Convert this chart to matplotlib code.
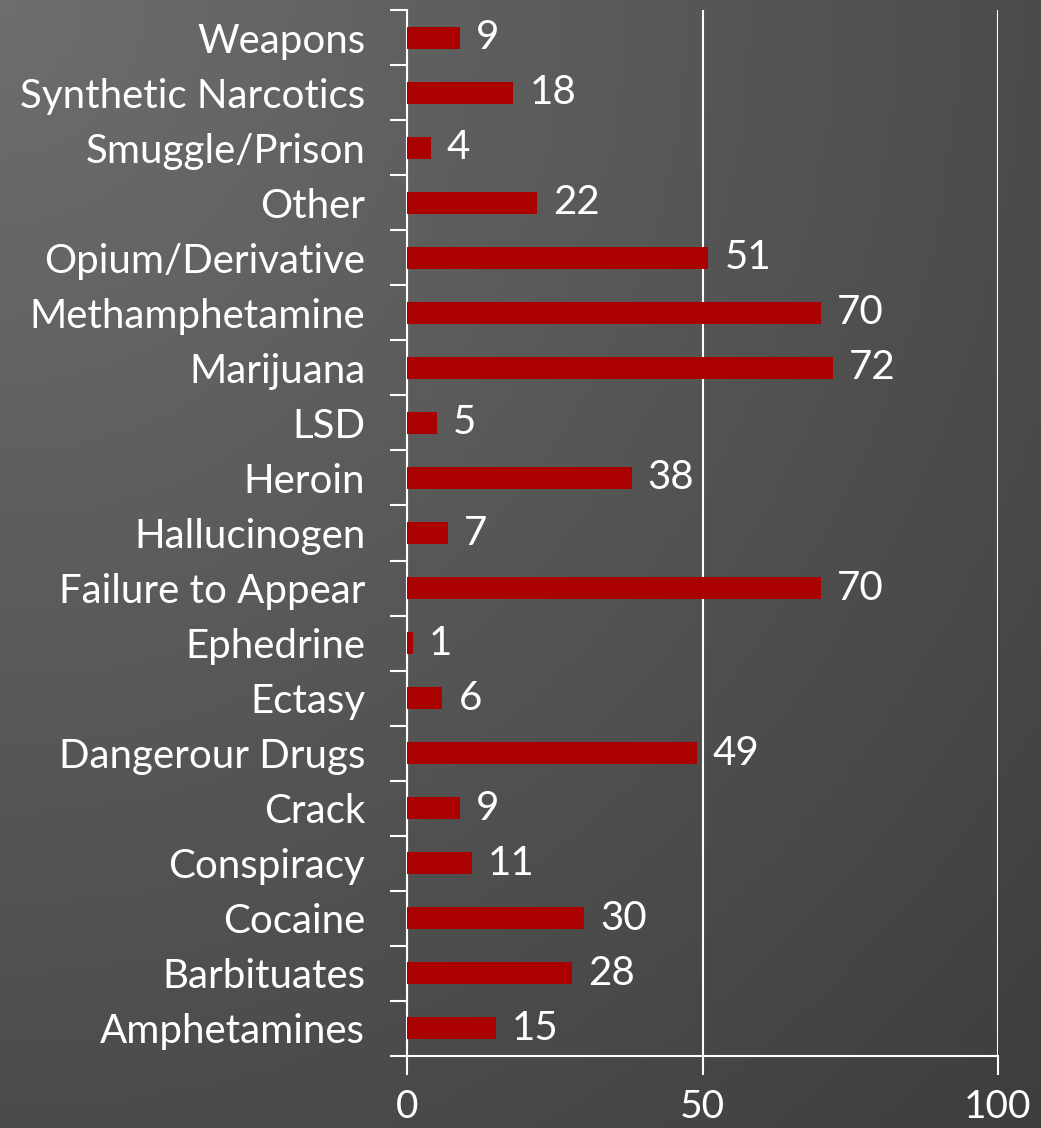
import matplotlib
matplotlib.use("Agg")
import matplotlib.pyplot as plt
import numpy as np

categories = ["Amphetamines", "Barbituates", "Cocaine", "Conspiracy", "Crack",
              "Dangerour Drugs", "Ectasy", "Ephedrine", "Failure to Appear",
              "Hallucinogen", "Heroin", "LSD", "Marijuana", "Methamphetamine",
              "Opium/Derivative", "Other", "Smuggle/Prison", "Synthetic Narcotics",
              "Weapons"]
values = [15, 28, 30, 11, 9, 49, 6, 1, 70, 7, 38, 5, 72, 70, 51, 22, 4, 18, 9]
xticks = [0, 50, 100]

plt.rcParams['font.family'] = ['Lato', 'DejaVu Sans']

W, H = 1041, 1128
fig = plt.figure(figsize=(W / 100, H / 100), dpi=100)

# background gradient
bg = fig.add_axes([0, 0, 1, 1])
yy, xx = np.mgrid[0:1:200j, 0:1:200j]
d = np.sqrt((xx) ** 2 + (yy) ** 2) / np.sqrt(2)
shade = 0.43 - 0.19 * d
img = np.dstack([shade, shade, shade])
bg.imshow(img, extent=[0, 1, 0, 1], aspect='auto', origin='upper')
bg.axis('off')

left = 407 / W
right = 998 / W
top = 1 - 10 / H
bottom = 1 - 1056 / H
ax = fig.add_axes([left, bottom, right - left, top - bottom])
ax.set_facecolor('none')

n = len(categories)
y = np.arange(n)
ax.barh(y, values, height=0.4, color='#AA0000', zorder=3)
for yi, v in zip(y, values):
    ax.text(v + 2.7, yi, str(v), va='center', ha='left', color='white', fontsize=29)

ax.set_xlim(0, 100)
ax.set_ylim(-0.5, n - 0.5)
ax.set_xticks(xticks)
ax.set_xticklabels([str(t) for t in xticks], fontsize=28, color='white')
ax.set_yticks(y)
ax.set_yticklabels(categories, fontsize=29, color='white')
ax.set_yticks(np.arange(n + 1) - 0.5, minor=True)
ax.tick_params(axis='y', which='major', length=0, pad=30)
ax.tick_params(axis='y', which='minor', length=12, width=1.5, color='white', direction='out')
ax.tick_params(axis='x', length=14, width=1.5, color='white', direction='out', pad=10)
ax.grid(axis='x', color='white', linewidth=1.5, zorder=1)
for s in ['top', 'right']:
    ax.spines[s].set_visible(False)
for s in ['left', 'bottom']:
    ax.spines[s].set_color('white')
    ax.spines[s].set_linewidth(1.5)

fig.savefig("out.png", dpi=100)
